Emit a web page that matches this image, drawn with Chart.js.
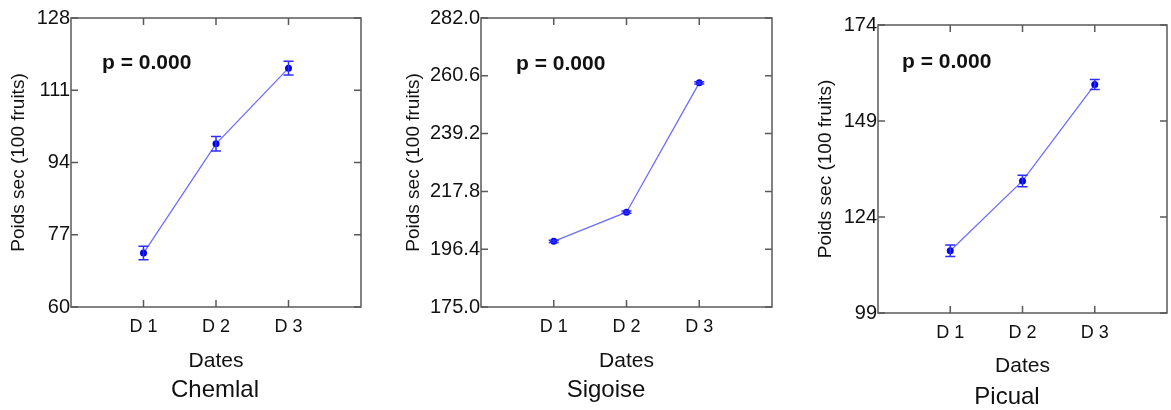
<!DOCTYPE HTML><html><head>
<meta name="viewport" content="width=device-width, initial-scale=1">
<style>
    html, body {
      margin: 0px;
      padding: 0px;
      background: #ffffff;
      font-family: Arial;
    }
    .panel {
      position: absolute;
      top: 0px;
    }
</style>
</head>
<body>

<canvas class="panel" id="chemlal" width="390" height="410" style="left:0px"></canvas>
<canvas class="panel" id="sigoise" width="390" height="410" style="left:390px"></canvas>
<canvas class="panel" id="picual" width="391" height="410" style="left:780px"></canvas>

<script src="https://cdn.jsdelivr.net/npm/chart.js@4.4.1/dist/chart.umd.min.js"></script>
<script>
// dates on the x axis (positions 1, 2, 3 on a 0..4 scale)
var dates = ['D 1', 'D 2', 'D 3'];
var datePos = [1, 2, 3];

// Chemlal
var chemlalMean = [72.7, 98.4, 116.2];
var chemlalErr = [1.6, 1.7, 1.6];
var chemlalTicks = [60, 77, 94, 111, 128];

// Sigoise
var sigoiseMean = [199.3, 210.1, 258.0];
var sigoiseErr = [0.4, 0.4, 0.4];
var sigoiseTicks = [175.0, 196.4, 217.8, 239.2, 260.6, 282.0];

// Picual
var picualMean = [115.2, 133.4, 158.5];
var picualErr = [1.5, 1.5, 1.3];
var picualTicks = [99, 124, 149, 174];

var pLabel = 'p = 0.000';
var yTitle = 'Poids sec (100 fruits)';
var xTitle = 'Dates';

function makeChart(id, caption, mean, err, yTicks, decimals, box) {
    var points = [];
    for (var i = 0; i < mean.length; i++) {
        points.push({x: datePos[i], y: mean[i]});
    }

    // frame, inner tick marks, error bars, p value and cultivar name
    var decor = {
        id: 'decor_' + id,
        afterDraw: function(chart) {
            var c = chart.ctx;
            var a = chart.chartArea;
            var xs = chart.scales.x, ys = chart.scales.y;
            c.save();
            c.strokeStyle = '#5a5a5a';
            c.lineWidth = 1.5;
            c.strokeRect(a.left, a.top, a.right - a.left, a.bottom - a.top);
            c.beginPath();
            yTicks.forEach(function(v) {
                var py = ys.getPixelForValue(v);
                c.moveTo(a.left, py); c.lineTo(a.left + 7, py);
                c.moveTo(a.right, py); c.lineTo(a.right - 7, py);
            });
            datePos.forEach(function(v) {
                var px = xs.getPixelForValue(v);
                c.moveTo(px, a.bottom); c.lineTo(px, a.bottom - 7);
                c.moveTo(px, a.top); c.lineTo(px, a.top + 7);
            });
            c.stroke();

            // error bars
            c.strokeStyle = 'rgb(45,45,255)';
            c.lineWidth = 1.5;
            c.beginPath();
            for (var i = 0; i < mean.length; i++) {
                var px = xs.getPixelForValue(datePos[i]);
                var hi = ys.getPixelForValue(mean[i] + err[i]);
                var lo = ys.getPixelForValue(mean[i] - err[i]);
                c.moveTo(px, hi); c.lineTo(px, lo);
                c.moveTo(px - 5, hi); c.lineTo(px + 5, hi);
                c.moveTo(px - 5, lo); c.lineTo(px + 5, lo);
            }
            c.stroke();

            c.fillStyle = '#111111';
            c.font = 'bold 21px Arial';
            c.textAlign = 'left';
            c.textBaseline = 'middle';
            c.fillText(pLabel, a.left + box.pDx, box.pY);

            c.font = '24px Arial';
            c.textAlign = 'center';
            c.fillText(caption, box.capX, box.capY);
            c.restore();
        }
    };

    return new Chart(document.getElementById(id), {
        type: 'line',
        data: {
            datasets: [{
                label: caption,
                data: points,
                fill: false,
                borderColor: 'rgba(110,110,255,1)',
                borderWidth: 1.3,
                pointRadius: 3.5,
                pointBackgroundColor: 'rgb(0,0,225)',
                pointBorderColor: 'rgb(0,0,225)',
                pointBorderWidth: 0,
                tension: 0
            }]
        },
        options: {
            responsive: false,
            animation: false,
            layout: {
                padding: {left: 0, top: box.top, right: box.right, bottom: 0}
            },
            plugins: {
                legend: {display: false},
                tooltip: {enabled: false}
            },
            scales: {
                x: {
                    type: 'linear',
                    min: 0,
                    max: 4,
                    afterFit: function(s) { s.height = box.xh; },
                    afterBuildTicks: function(s) {
                        s.ticks = datePos.map(function(v) { return {value: v}; });
                    },
                    grid: {display: false, drawTicks: false},
                    border: {display: false},
                    ticks: {
                        padding: 9,
                        color: '#111111',
                        font: {family: 'Arial', size: 18},
                        callback: function(v) { return dates[datePos.indexOf(v)]; }
                    },
                    title: {
                        display: true,
                        text: xTitle,
                        color: '#111111',
                        font: {family: 'Arial', size: 21},
                        padding: {top: 0, bottom: box.xtPad}
                    }
                },
                y: {
                    min: yTicks[0],
                    max: yTicks[yTicks.length - 1],
                    afterFit: function(s) { s.width = box.yw; },
                    afterBuildTicks: function(s) {
                        s.ticks = yTicks.map(function(v) { return {value: v}; });
                    },
                    grid: {display: false, drawTicks: false},
                    border: {display: false},
                    ticks: {
                        padding: 1,
                        color: '#111111',
                        font: {family: 'Arial', size: 20},
                        callback: function(v) { return Number(v).toFixed(decimals); }
                    },
                    title: {
                        display: true,
                        text: yTitle,
                        color: '#111111',
                        font: {family: 'Arial', size: 19},
                        padding: {top: box.ytPad, bottom: 0}
                    }
                }
            }
        },
        plugins: [decor]
    });
}

makeChart('chemlal', 'Chemlal', chemlalMean, chemlalErr, chemlalTicks, 0,
    {top: 18, right: 29, yw: 71, xh: 103, ytPad: 7, xtPad: 36, pDx: 31, pY: 63, capX: 215, capY: 390});
makeChart('sigoise', 'Sigoise', sigoiseMean, sigoiseErr, sigoiseTicks, 1,
    {top: 18, right: 8, yw: 91, xh: 103, ytPad: 12, xtPad: 36, pDx: 35, pY: 64, capX: 216, capY: 390});
makeChart('picual', 'Picual', picualMean, picualErr, picualTicks, 0,
    {top: 25, right: 3, yw: 98, xh: 97, ytPad: 34, xtPad: 31, pDx: 24, pY: 62, capX: 227, capY: 397});
</script>

</body></html>
